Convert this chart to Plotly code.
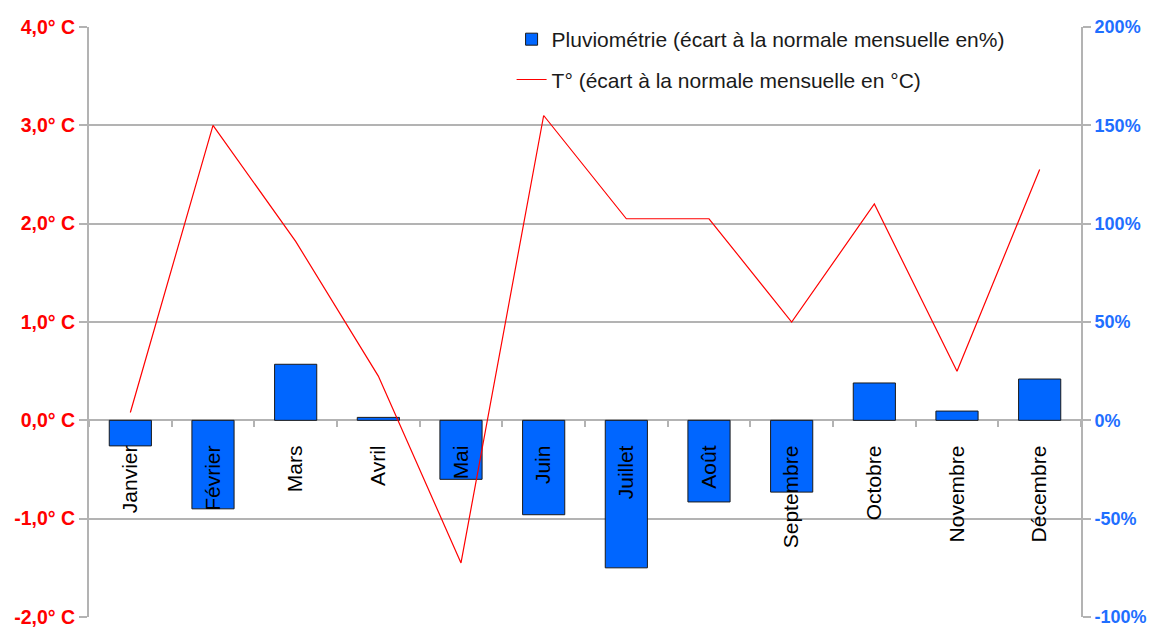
import plotly.graph_objects as go

months = ["Janvier", "Février", "Mars", "Avril", "Mai", "Juin", "Juillet",
          "Août", "Septembre", "Octobre", "Novembre", "Décembre"]
pluvio_pct = [-13, -45, 28.5, 1.5, -30, -48, -75, -41.5, -36.5, 19, 4.7, 21]
temp_c = [0.08, 3.0, 1.82, 0.45, -1.45, 3.1, 2.05, 2.05, 1.0, 2.2, 0.5, 2.55]

temp_ticks = [-2, -1, 0, 1, 2, 3, 4]
temp_labels = ["-2,0° C", "-1,0° C", "0,0° C", "1,0° C", "2,0° C", "3,0° C", "4,0° C"]
pct_ticks = [-100, -50, 0, 50, 100, 150, 200]
pct_labels = ["-100%", "-50%", "0%", "50%", "100%", "150%", "200%"]

FONT = "Liberation Sans, Arial, sans-serif"
GRID = "#b3b3b3"

fig = go.Figure()
fig.add_trace(go.Bar(
    x=months, y=pluvio_pct, yaxis="y", xaxis="x",
    name="Pluviométrie (écart à la normale mensuelle en%)",
    marker=dict(color="#0066ff", line=dict(color="#1a1a1a", width=1)),
    legendgroup="a",
))
fig.add_trace(go.Scatter(
    x=months, y=temp_c, yaxis="y2", xaxis="x", mode="lines",
    name="T° (écart à la normale mensuelle en °C)",
    line=dict(color="#ff0000", width=1.2),
    legendgroup="b",
))

fig.update_layout(
    width=1147, height=621,
    margin=dict(l=81, r=74, t=19, b=12, autoexpand=False),
    paper_bgcolor="white", plot_bgcolor="white",
    bargap=0.49,
    font=dict(family=FONT, size=20, color="#000000"),
    xaxis=dict(
        anchor="free", position=1/3,
        type="category", tickangle=-90,
        showgrid=False, showline=False, zeroline=False,
        ticks="outside", ticklen=6, tickwidth=1.5, tickcolor=GRID,
        tickson="boundaries", ticklabelstandoff=20,
        tickfont=dict(family=FONT, size=21, color="#000000"),
    ),
    yaxis=dict(
        side="right", range=[-100, 200],
        tickvals=pct_ticks, ticktext=pct_labels,
        showgrid=True, gridcolor=GRID, gridwidth=1.5,
        zeroline=False, showline=True, linecolor=GRID, linewidth=2,
        ticks="outside", ticklen=8, tickcolor=GRID, tickwidth=1.5,
        ticklabeloverflow="allow",
        tickfont=dict(family=FONT, size=18, color="#1f6fff", weight="bold"),
    ),
    yaxis2=dict(
        overlaying="y", side="left", range=[-2, 4],
        tickvals=temp_ticks, ticktext=temp_labels,
        showgrid=False, zeroline=False,
        showline=True, linecolor=GRID, linewidth=2,
        ticks="outside", ticklen=8, tickcolor=GRID, tickwidth=1.5,
        ticklabeloverflow="allow",
        tickfont=dict(family=FONT, size=19.5, color="#ff0000", weight="bold"),
    ),
    legend=dict(
        x=0.426, y=1.0135, xanchor="left", yanchor="top",
        bgcolor="rgba(0,0,0,0)", borderwidth=0,
        font=dict(family=FONT, size=21, color="#1a1a1a"),
        traceorder="grouped", tracegroupgap=10,
    ),
    showlegend=True,
)

fig.write_html("out.html")
